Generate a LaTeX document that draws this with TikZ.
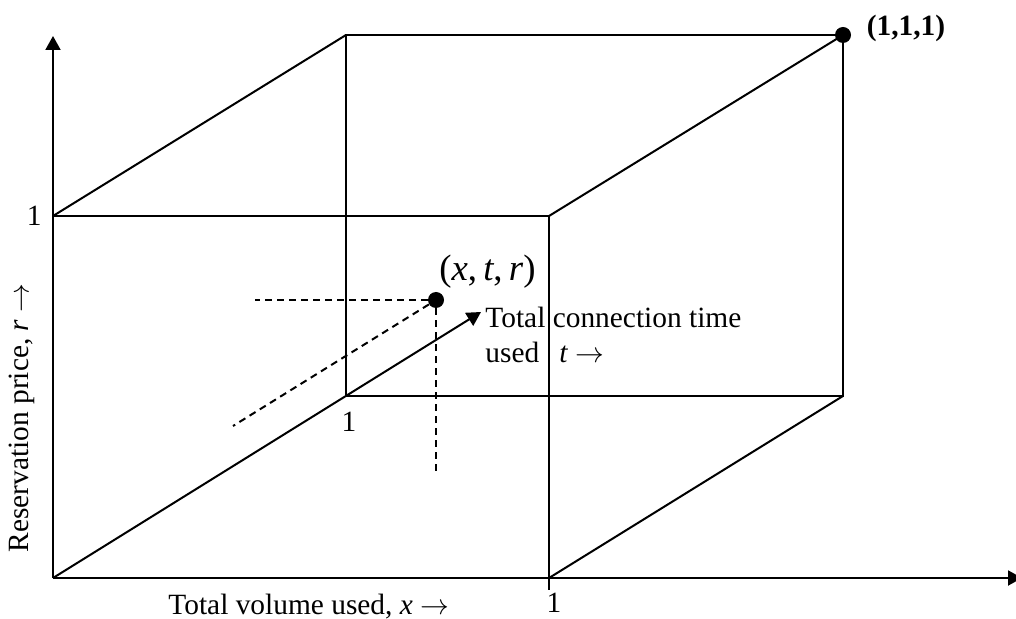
\documentclass[tikz,border=0pt]{standalone}
\usepackage{fontspec}
\setmainfont{Liberation Serif}
\usetikzlibrary{arrows.meta,positioning}

\begin{document}
\begin{tikzpicture}[
  x=0.5pt,y=-0.5pt,
  font=\fontsize{14.7pt}{17.5pt}\selectfont,
  edge/.style={line width=1pt},
  axis/.style={line width=1pt,-{Triangle[length=7pt,width=7.5pt]}},
  guide/.style={line width=1pt,dash pattern=on 3.5pt off 2.5pt},
  dot/.style={circle,fill,inner sep=0pt,minimum size=8pt},
  lbl/.style={inner sep=0pt},
]
\useasboundingbox (0,0) rectangle (1016,619);

% corners of the unit cube
\coordinate (o) at (53,578);
\coordinate (x1) at (549,578);
\coordinate (xtick) at (549,590);
\coordinate (r1) at (53,216);
\coordinate (xr) at (549,216);
\coordinate (t1) at (346,396);
\coordinate (xt) at (843,396);
\coordinate (rt) at (346,35);
\coordinate (xtr) at (843,35);

% axis ends
\coordinate (xend) at (1022,578);
\coordinate (rend) at (53,36);
\coordinate (tend) at (481,312);

% the point and its projections
\coordinate (ph) at (255,300);
\coordinate (pv) at (436,474);
\coordinate (pd) at (233,426);

\draw[axis] (o) -- (xend);
\draw[axis] (o) -- (rend);
\draw[axis] (o) -- (tend);

\draw[edge] (r1) -- (xr) -- (xtick);
\draw[edge] (t1) -- (xt) -- (xtr) -- (rt) -- cycle;
\draw[edge] (r1) -- (rt);
\draw[edge] (xr) -- (xtr);
\draw[edge] (x1) -- (xt);

\node[dot] (corner) at (xtr) {};
\node[dot] (p) at (436,300) {};

\draw[guide] (p) -- (ph);
\draw[guide] (p) -- (pv);
\draw[guide] (p) -- (pd);

\node[lbl,right=7.5pt of corner,yshift=3.5pt,font=\fontsize{14.7pt}{17.5pt}\selectfont\bfseries] (cornerlbl) {(1,1,1)};
\node[lbl,above right=2.5pt and -1.5pt of p,font=\fontsize{18.4pt}{22pt}\selectfont] (plbl) {(\textit{x},\,\textit{t},\,\textit{r})};
\node[lbl,anchor=north west,align=left] (tlbl) at ([xshift=2pt,yshift=2.5pt]tend) {Total connection time\\used\hspace{10pt}\textit{t} $\rightarrow$};

\node[lbl,left=5.5pt of r1] (rone) {1};
\node[lbl,below=8pt of t1,xshift=1.5pt] (tone) {1};
\node[lbl,below=7.5pt of x1,xshift=2.5pt] (xone) {1};

\node[lbl,anchor=west] (xlbl) at (168,607) {Total volume used, \textit{x} $\rightarrow$};
\node[lbl,rotate=90] (rlbl) at (22,418) {Reservation price, \textit{r} $\rightarrow$};

\end{tikzpicture}
\end{document}
